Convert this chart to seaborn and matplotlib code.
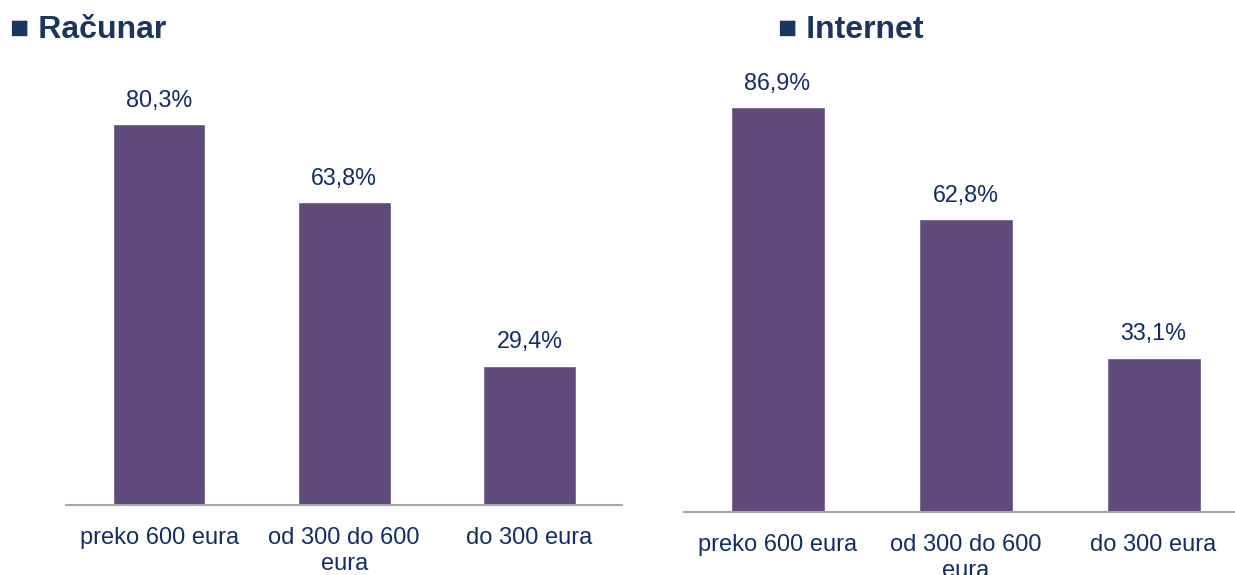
import matplotlib
matplotlib.use("Agg")
import matplotlib.pyplot as plt
import seaborn as sns
import pandas as pd

categories = ["preko 600 eura", "od 300 do 600\neura", "do 300 eura"]
racunar_values = [80.3, 63.8, 29.4]
internet_values = [86.9, 62.8, 33.1]
titles = ["Računar", "Internet"]

sns.set_theme(style="white")
plt.rcParams['font.family'] = ['Liberation Sans', 'DejaVu Sans']

BAR = "#604A7B"
TXT = "#122D62"
TITLE = "#1A3660"
AXIS = "#A6A6A6"

fig = plt.figure(figsize=(12.35, 5.75), dpi=100)
ax1 = fig.add_axes([66.5/1235, 70/575, 555.5/1235, 427/575])
ax2 = fig.add_axes([683.5/1235, 63/575, 564/1235, 419.4/575])

for ax, vals in [(ax1, racunar_values), (ax2, internet_values)]:
    df = pd.DataFrame({"cat": categories, "val": vals})
    sns.barplot(data=df, x="cat", y="val", color=BAR, saturation=1, width=0.5, ax=ax)
    ax.set_xlim(-0.5, 2.5)
    ax.set_ylim(0, 90)
    ax.set_xlabel("")
    ax.set_ylabel("")
    ax.set_yticks([])
    for s in ["top", "right", "left"]:
        ax.spines[s].set_visible(False)
    ax.spines["bottom"].set_color(AXIS)
    ax.spines["bottom"].set_linewidth(1.5)
    ax.tick_params(axis="x", length=0, pad=15.5, labelsize=17, labelcolor=TXT)
    for lbl in ax.get_xticklabels():
        lbl.set_linespacing(1.25)
        lbl.set_verticalalignment("top")
    for p, v in zip(ax.patches, vals):
        ax.annotate(f"{v:.1f}".replace(".", ",") + "%",
                    (p.get_x() + p.get_width() / 2, p.get_height()),
                    xytext=(0, 9), textcoords="offset points",
                    ha="center", va="bottom", fontsize=16.8, color=TXT)

fig.text(10/1235, 1 - 38/575, "■ " + titles[0], fontsize=23, fontweight="bold",
         color=TITLE, ha="left", va="baseline")
fig.text(778/1235, 1 - 38/575, "■ " + titles[1], fontsize=23, fontweight="bold",
         color=TITLE, ha="left", va="baseline")

fig.savefig("out.png", dpi=100)
